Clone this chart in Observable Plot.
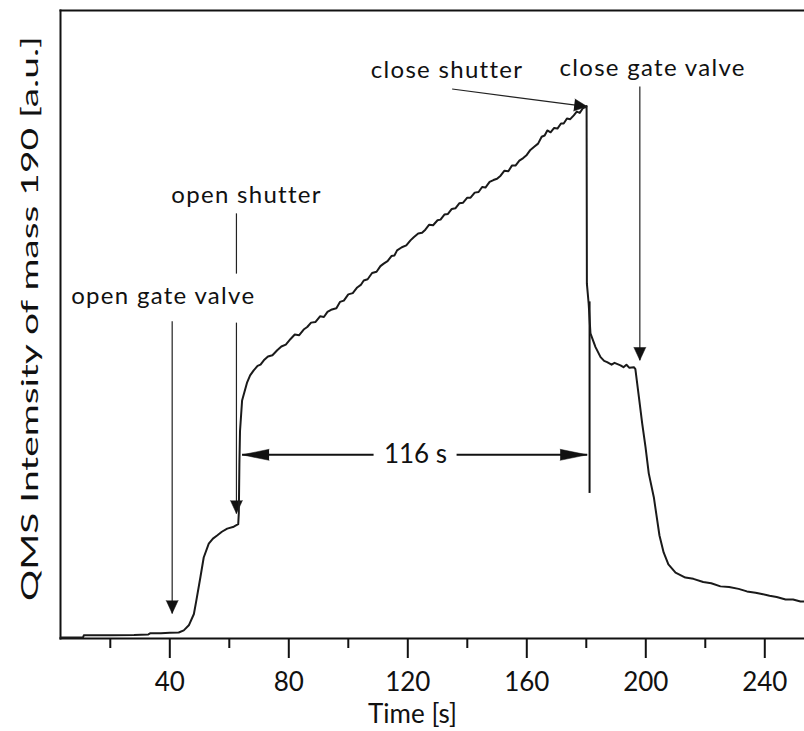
<!DOCTYPE html>
<html><head><meta charset="utf-8">
<script src="https://cdn.jsdelivr.net/npm/d3@7"></script>
<script src="https://cdn.jsdelivr.net/npm/@observablehq/plot@0.6"></script>
<style>
body{margin:0;background:#fff;}
#chart svg{display:block;}
</style></head><body><div id="chart"></div>
<script>
// QMS signal of mass 190 versus time
const time = [3.3,10.8,11.1,20,28,32.8,33.5,37,40,43.0,44.7,46.4,48.1,48.9,50.3,51.4,53.1,54.5,55.9,57.5,59.3,61.5,63.0,63.2,63.4,63.6,64.3,
  66.0,67.0,68.2,69.5,70.5,71.6,73.0,74.5,76.1,77.5,79.0,80.6,82.0,83.5,85.0,86.2,87.5,89.0,90.5,91.8,93.0,94.5,96.0,97.2,98.5,
  100.0,101.5,103.0,104.2,105.2,106.5,108.0,109.5,110.8,111.9,113.2,114.5,115.5,116.4,118.0,119.5,120.9,122.0,123.5,124.8,125.9,
  127.2,128.5,130.0,131.0,132.3,133.5,134.8,136.0,137.3,138.6,140.0,141.1,142.5,143.8,145.0,146.1,147.5,148.8,150.0,151.2,152.5,
  153.8,155.0,156.2,157.5,158.8,160.0,161.2,162.5,163.8,165.0,166.0,166.9,168.0,169.2,170.3,171.5,172.4,173.5,174.6,175.8,176.8,
  177.8,178.8,179.7,180.1,180.2,180.8,181.4,183.1,184.8,186.0,187.0,188.5,189.5,191.5,192.5,193.5,194.5,196.0,196.5,197.7,198.8,
  199.9,201.0,202.7,203.6,204.6,206.0,207.6,210.0,213.3,216.0,219.3,222.0,225.1,228.0,231.2,234.0,236.9,239.0,241.6,244.0,247.0,
  249.5,252.0,253.3];
const intensity = [0.15,0.15,0.5,0.5,0.55,0.65,0.85,0.85,0.9,0.95,1.3,2.1,3.9,6.0,9.8,12.9,15.1,15.9,16.4,17.0,17.5,17.8,18.2,20.0,28.0,33.0,37.9,
  40.8,41.9,42.7,43.4,43.6,44.3,44.9,45.1,45.9,46.5,46.8,47.7,48.4,48.3,49.2,49.6,50.3,50.4,51.3,51.2,52.0,52.4,52.6,53.6,53.8,
  54.8,55.0,55.9,56.3,57.0,57.2,58.2,58.4,59.3,59.7,60.1,60.9,61.0,61.8,62.3,62.6,63.4,63.9,64.5,64.6,65.1,
  65.9,65.8,66.6,66.7,67.5,67.6,68.4,68.5,69.3,69.4,70.2,70.2,71.0,71.1,71.9,71.8,72.7,73.0,73.2,73.7,74.5,
  74.4,75.3,75.3,76.1,76.5,77.0,77.8,78.3,78.8,79.9,80.1,80.9,80.6,81.3,81.2,82.0,82.0,82.8,82.7,83.3,83.9,
  83.7,84.4,84.6,84.8,56.5,53.3,48.6,46.4,44.8,44.2,44.0,43.6,43.9,43.5,43.2,43.6,43.1,43.2,42.9,38.4,34.2,
  30.5,26.3,22.5,19.6,16.4,13.7,11.8,10.5,9.7,9.5,9.0,8.8,8.3,8.2,7.9,7.5,7.3,7.1,6.8,6.6,6.2,
  6.2,5.9,5.9];

// axis
const xDomain = [3.26, 253.35];
const yDomain = [0, 100];
const majorTicks = [40, 80, 120, 160, 200, 240];
const minorTicks = [20, 60, 100, 140, 180, 220];
const xLabel = "Time [s]";
const xLabelAt = 121.6;
const yLabel = "QMS Intemsity of mass 190 [a.u.]";

// event labels
const noteText = ["open gate valve", "open shutter", "close shutter", "close gate valve"];
const noteX = [37.8, 65.8, 133.2, 202.3];
const noteY = [53.3, 69.4, 89.2, 89.5];

// thin annotation lines (from -> to)
const lineX1 = [40.8, 62.4, 62.4, 134.9, 198.0];
const lineY1 = [50.5, 67.7, 50.3, 87.5, 87.9];
const lineX2 = [40.8, 62.4, 62.4, 180.3, 198.0];
const lineY2 = [4.0, 58.1, 19.9, 84.7, 44.3];
// arrow heads at tips
const headX = [40.8, 62.4, 180.3, 198.0];
const headY = [4.0, 19.9, 84.7, 44.3];
const headDir = [180, 180, 97, 180];

// 116 s span
const spanText = "116 s";
const spanStart = 64.3;
const spanEnd = 180.3;
const spanY = 29.25;
const spanGapLeft = 108.5;
const spanGapRight = 136.4;
const spanTextX = 122.6;
const extX = 181.1;
const extTop = 53.6;
const extBottom = 23.1;

const data = time.map((t, i) => ({t, v: intensity[i]}));
const links = lineX1.map((x1, i) => ({x1, y1: lineY1[i], x2: lineX2[i], y2: lineY2[i]}));
const heads = headX.map((x, i) => ({x, y: headY[i], r: headDir[i]}));
const notes = noteText.map((s, i) => ({s, x: noteX[i], y: noteY[i]}));
const spanLinks = [
  {x1: spanGapLeft, x2: spanStart, y: spanY},
  {x1: spanGapRight, x2: spanEnd, y: spanY}
];
const spanHeads = [{x: spanStart, y: spanY, r: 270}, {x: spanEnd, y: spanY, r: 90}];

const font = "Lato, 'Open Sans', sans-serif";

const chart = Plot.plot({
  width: 804,
  height: 731,
  marginLeft: 60,
  marginRight: 0,
  marginTop: 10,
  marginBottom: 93,
  style: {fontFamily: font, fontSize: "26px", color: "#111", background: "#fff"},
  x: {domain: xDomain},
  y: {domain: yDomain},
  marks: [
    Plot.frame({anchor: "top", strokeWidth: 2}),
    Plot.frame({anchor: "left", strokeWidth: 2}),
    Plot.frame({anchor: "bottom", strokeWidth: 2}),
    Plot.axisX({ticks: minorTicks, tickSize: 10, strokeWidth: 2, text: null, label: null}),
    Plot.axisX({ticks: majorTicks, tickSize: 20, strokeWidth: 2, tickPadding: 14, fontSize: 26, label: null}),
    Plot.axisY({ticks: [], label: null}),
    Plot.text([xLabel], {x: xLabelAt, frameAnchor: "bottom", dy: 84, fontSize: 26, lineAnchor: "bottom"}),
    Plot.text([yLabel], {frameAnchor: "left", dx: -30, dy: -6, rotate: -90, fontSize: 24, textAnchor: "middle"}),
    Plot.link(links, {x1: "x1", y1: "y1", x2: "x2", y2: "y2", stroke: "#222", strokeWidth: 1.2}),
    Plot.vector(heads, {x: "x", y: "y", rotate: "r", length: 13, r: 6, shape: "spike", anchor: "end", fill: "#111", stroke: "#111", strokeWidth: 0.5}),
    Plot.link(spanLinks, {x1: "x1", x2: "x2", y1: "y", y2: "y", stroke: "#111", strokeWidth: 2}),
    Plot.vector(spanHeads, {x: "x", y: "y", rotate: "r", length: 27, r: 5.5, shape: "spike", anchor: "end", fill: "#111", stroke: "#111", strokeWidth: 0.5}),
    Plot.ruleX([extX], {y1: extTop, y2: extBottom, stroke: "#111", strokeWidth: 2}),
    Plot.text([spanText], {x: spanTextX, y: spanY, fontSize: 26, textAnchor: "middle", lineAnchor: "middle"}),
    Plot.line(data, {x: "t", y: "v", stroke: "#1a1a1a", strokeWidth: 2, curve: "linear"}),
    Plot.text(notes, {x: "x", y: "y", text: "s", fontSize: 24, textAnchor: "middle", lineAnchor: "bottom"})
  ]
});
// the y-axis title is drawn elongated along its direction in the reference
const svg = d3.select(chart);
svg.selectAll("text")
  .filter(function() { return this.textContent === yLabel; })
  .attr("textLength", 565)
  .attr("lengthAdjust", "spacingAndGlyphs");
svg.selectAll("text")
  .filter(function() { return noteText.includes(this.textContent); })
  .style("letter-spacing", "1.3px");
document.getElementById("chart").appendChild(chart);
</script>
</body></html>
